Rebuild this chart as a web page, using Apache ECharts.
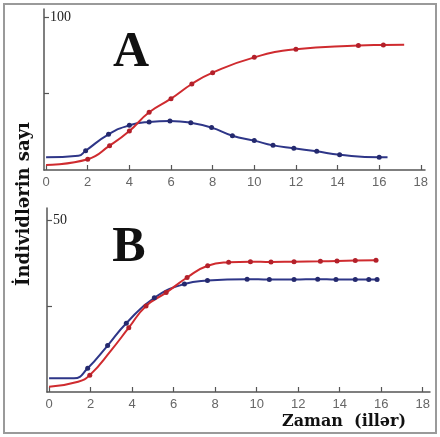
<!DOCTYPE html>
<html><head><meta charset="utf-8">
<script src="https://cdn.jsdelivr.net/npm/echarts@6/dist/echarts.min.js"></script>
<style>html,body{margin:0;padding:0;background:#fff}#c{width:440px;height:437px}</style>
</head><body><div id="c"></div>
<script>
// Panel A
const aRedX  = [0, 2, 3.05, 4, 4.95, 6, 7, 8, 10, 12, 15, 16.2, 17.2];
const aRedY  = [3.3, 7.0, 15.9, 25.5, 37.7, 46.6, 56.2, 63.6, 73.6, 78.9, 81.3, 81.7, 81.9];
const aRedM  = [0, 1, 1, 1, 1, 1, 1, 1, 1, 1, 1, 1, 0];
const aBlueX = [0, 1.55, 1.9, 3.0, 4.0, 4.95, 5.95, 6.95, 7.95, 8.95, 10.0, 10.9, 11.9, 13.0, 14.1, 16.0, 16.4];
const aBlueY = [8.3, 9.3, 12.6, 23.3, 29.2, 31.4, 32.0, 30.9, 27.7, 22.4, 19.2, 16.1, 14.2, 12.2, 10.0, 8.3, 8.3];
const aBlueM = [0, 0, 1, 1, 1, 1, 1, 1, 1, 1, 1, 1, 1, 1, 1, 1, 0];
// Panel B
const bRedX  = [0, 1.4, 1.96, 3.0, 3.84, 4.67, 5.64, 6.65, 7.64, 8.65, 9.7, 10.69, 11.8, 13.07, 13.87, 14.75, 15.75];
const bRedY  = [1.5, 3.0, 4.9, 12.2, 18.7, 25.0, 28.9, 33.3, 36.7, 37.7, 37.9, 37.8, 37.9, 38.0, 38.1, 38.2, 38.3];
const bRedM  = [0, 0, 1, 0, 1, 1, 1, 1, 1, 1, 1, 1, 1, 1, 1, 1, 1];
const bBlueX = [0, 1.2, 1.86, 2.82, 3.72, 5.07, 6.52, 7.63, 9.54, 10.61, 11.8, 12.94, 13.82, 14.75, 15.4, 15.8];
const bBlueY = [4.0, 4.0, 6.9, 13.5, 20.0, 27.4, 31.4, 32.4, 32.8, 32.7, 32.7, 32.8, 32.7, 32.7, 32.7, 32.7];
const bBlueM = [0, 0, 1, 1, 1, 1, 1, 1, 1, 1, 1, 1, 1, 1, 1, 1];
// ticks / labels
const xTicks = [0, 2, 4, 6, 8, 10, 12, 14, 16, 18];
const aYTicks = [50, 100];
const aYLabels = [100];
const bYTicks = [25, 50];
const bYLabels = [50];
const yTitle = 'İndividlərin sayı';
const xTitle = 'Zaman  (illər)';

const RED = '#cf2b2f', RED_M = '#b3202a', BLUE = '#2e3688', BLUE_M = '#24296e';
const serif = '"Liberation Serif", "DejaVu Serif", serif';
const heavySerif = '"DejaVu Serif", "Liberation Serif", serif';

function mk(xs, ys, ms, col, mcol, gi) {
  return {
    type: 'line', xAxisIndex: gi, yAxisIndex: gi, smooth: 0.5,
    symbol: 'circle', symbolSize: 5, showAllSymbol: true,
    lineStyle: { color: col, width: 2 }, itemStyle: { color: mcol },
    data: xs.map((x, i) => ms[i] ? [x, ys[i]] : { value: [x, ys[i]], symbol: 'none' }),
    z: 3, animation: false
  };
}
function xAx(gi, min, max) {
  return {
    type: 'value', gridIndex: gi, min: min, max: max,
    axisLine: { onZero: false, lineStyle: { color: '#555', width: 1.5 } },
    axisTick: { inside: true, length: 5, customValues: xTicks, lineStyle: { color: '#555', width: 1.2 } },
    axisLabel: { customValues: xTicks, color: '#666', fontSize: 13, margin: 6, fontFamily: '"Liberation Sans", Arial, sans-serif' },
    splitLine: { show: false }
  };
}
function yAx(gi, max, ticks, labels) {
  return {
    type: 'value', gridIndex: gi, min: 0, max: max,
    axisLine: { show: true, onZero: false, lineStyle: { color: '#555', width: 1.5 } },
    axisTick: { show: true, inside: true, length: 5, customValues: ticks, lineStyle: { color: '#555', width: 1.2 } },
    axisLabel: { inside: true, customValues: labels, color: '#222', fontSize: 14, margin: 6, fontFamily: serif },
    splitLine: { show: false }
  };
}
const chart = echarts.init(document.getElementById('c'), null, { renderer: 'canvas' });
chart.setOption({
  animation: false,
  grid: [
    { left: 44, top: 9, width: 381, height: 161 },
    { left: 47, top: 208, width: 383, height: 184 }
  ],
  xAxis: [xAx(0, -0.1, 18.2), xAx(1, -0.1, 18.35)],
  yAxis: [yAx(0, 105.2, aYTicks, aYLabels), yAx(1, 53.5, bYTicks, bYLabels)],
  series: [
    mk(aBlueX, aBlueY, aBlueM, BLUE, BLUE_M, 0),
    mk(aRedX, aRedY, aRedM, RED, RED_M, 0),
    mk(bBlueX, bBlueY, bBlueM, BLUE, BLUE_M, 1),
    mk(bRedX, bRedY, bRedM, RED, RED_M, 1)
  ],
  graphic: [
    { type: 'rect', shape: { x: 4, y: 4, width: 432, height: 429 }, style: { fill: 'none', stroke: '#9a9a9a', lineWidth: 2 }, z: 0 },
    { type: 'text', x: 131, y: 53, style: { text: 'A', font: 'bold 50px ' + serif, fill: '#111', align: 'center', verticalAlign: 'middle' } },
    { type: 'text', x: 129, y: 248, style: { text: 'B', font: 'bold 50px ' + serif, fill: '#111', align: 'center', verticalAlign: 'middle' } },
    { type: 'text', x: 24, y: 204, rotation: Math.PI / 2, style: { text: yTitle, font: 'bold 18px ' + heavySerif, fill: '#111', align: 'center', verticalAlign: 'middle' } },
    { type: 'text', x: 344, y: 422, style: { text: xTitle, font: 'bold 16px ' + heavySerif, fill: '#111', align: 'center', verticalAlign: 'middle' } }
  ]
});
</script></body></html>
